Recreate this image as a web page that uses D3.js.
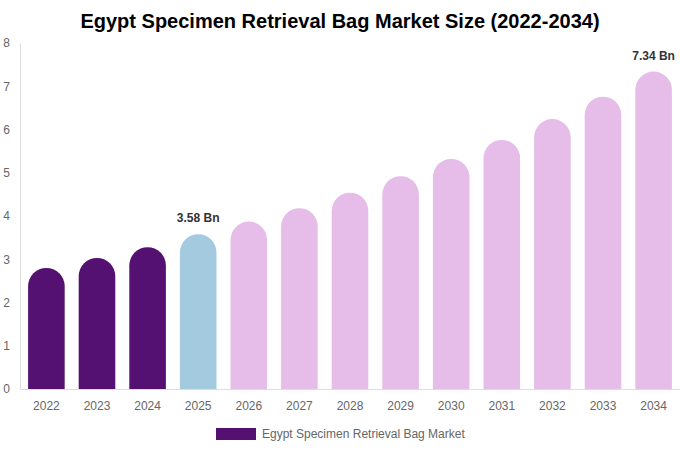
<!DOCTYPE html>
<html lang="en">
<head>
<meta charset="utf-8">
<title>Egypt Specimen Retrieval Bag Market Size</title>
<script src="https://cdn.jsdelivr.net/npm/d3@7"></script>
<style>
  body { margin: 0; background: #fff; }
  text { font-family: "Liberation Sans", Arial, sans-serif; }
</style>
</head>
<body>
<script>
// data
var years = ["2022","2023","2024","2025","2026","2027","2028","2029","2030","2031","2032","2033","2034"];
var values = [2.80, 3.03, 3.28, 3.58, 3.87, 4.18, 4.54, 4.92, 5.32, 5.76, 6.24, 6.76, 7.34];
var yTicks = [0, 1, 2, 3, 4, 5, 6, 7, 8];
var labelled = {"2025": "3.58 Bn", "2034": "7.34 Bn"};
var seriesName = "Egypt Specimen Retrieval Bag Market";

var w = 680, h = 450;
var margin = {top: 43, right: 0, bottom: 61, left: 20};

function barColor(y) {
  if (+y < 2025) return "#541172";
  if (+y === 2025) return "#a3cadf";
  return "#e6bce8";
}

var svg = d3.select("body").append("svg")
  .attr("width", w)
  .attr("height", h);

svg.append("text")
  .attr("x", w / 2)
  .attr("y", 28)
  .attr("text-anchor", "middle")
  .attr("font-size", "20px")
  .attr("font-weight", "bold")
  .attr("fill", "#000")
  .text("Egypt Specimen Retrieval Bag Market Size (2022-2034)");

var x = d3.scaleBand()
  .domain(years)
  .range([margin.left, w - margin.right])
  .paddingInner(0.277)
  .paddingOuter(0.16);

var y = d3.scaleLinear()
  .domain([0, 8])
  .range([h - margin.bottom, margin.top]);

// y axis
var yAxis = svg.append("g")
  .attr("transform", "translate(" + margin.left + ",0)")
  .call(d3.axisLeft(y).tickValues(yTicks).tickSize(0).tickPadding(10));
yAxis.select(".domain").attr("stroke", "#ddd");
yAxis.selectAll("text").attr("fill", "#666").attr("font-size", "12px");

// x axis
var xAxis = svg.append("g")
  .attr("transform", "translate(0," + (h - margin.bottom) + ")")
  .call(d3.axisBottom(x).tickSize(0).tickPadding(12));
xAxis.select(".domain").attr("stroke", "#ddd");
xAxis.selectAll("text").attr("fill", "#666").attr("font-size", "12px");

// rounded-top bars
function barPath(d, i) {
  var bx = x(years[i]), bw = x.bandwidth();
  var r = bw / 2;
  var top = y(d), base = y(0);
  return "M" + bx + "," + base +
    "L" + bx + "," + (top + r) +
    "A" + r + "," + r + " 0 0 1 " + (bx + bw) + "," + (top + r) +
    "L" + (bx + bw) + "," + base + "Z";
}

svg.append("g").selectAll("path")
  .data(values)
  .enter()
  .append("path")
  .attr("d", barPath)
  .attr("fill", function(d, i) { return barColor(years[i]); });

// value labels
svg.append("g").selectAll("text")
  .data(years.filter(function(yr) { return labelled[yr]; }))
  .enter()
  .append("text")
  .attr("x", function(yr) { return x(yr) + x.bandwidth() / 2; })
  .attr("y", function(yr) { return y(values[years.indexOf(yr)]) - 12; })
  .attr("text-anchor", "middle")
  .attr("font-size", "12px")
  .attr("font-weight", "bold")
  .attr("fill", "#333")
  .text(function(yr) { return labelled[yr]; });

// legend
var legend = svg.append("g").attr("transform", "translate(216,428)");
legend.append("rect")
  .attr("width", 40)
  .attr("height", 12)
  .attr("fill", "#541172");
legend.append("text")
  .attr("x", 46)
  .attr("y", 10)
  .attr("font-size", "12px")
  .attr("fill", "#666")
  .text(seriesName);
</script>
</body>
</html>
